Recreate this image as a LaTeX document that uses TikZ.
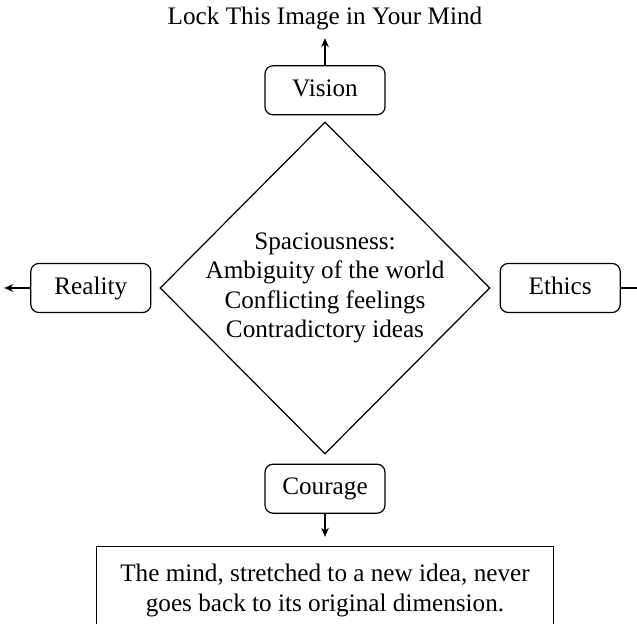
\documentclass[tikz,border=0pt]{standalone}
\usepackage{fontspec}
\setmainfont{Liberation Serif}
\usepackage{tikz}
\usetikzlibrary{shapes.geometric}
\usetikzlibrary{arrows.meta}
\usetikzlibrary{positioning}

\begin{document}
\begin{tikzpicture}[x=0.5pt,y=0.5pt,line width=0.6pt,font=\fontsize{12.6}{14.7}\selectfont,
	core node/.style={diamond, draw, minimum width=165pt, minimum height=166pt, inner sep=-3pt, align=center},
	side node/.style={rectangle, rounded corners=4pt, draw, minimum width=60pt, minimum height=24.5pt, text height=9pt, text depth=2.8pt},
	quote node/.style={rectangle, draw, minimum width=228.5pt, align=center, inner xsep=4pt, inner ysep=9pt, text depth=40pt}]
			
			\useasboundingbox (-325,-334) rectangle (312,290);
			
			\node[core node] (1) [yshift=1pt] {Spaciousness:\\ Ambiguity of the world\\ Conflicting feelings\\ Contradictory ideas};
			\node[side node] (2) [above=3pt of 1] {Vision};
			\node[side node] (3) [left=4pt of 1] {Reality};
			\node[side node] (4) [right=4.5pt of 1] {Ethics};
			\node[side node] (5) [below=4.5pt of 1] {Courage};
			\node (6) [above=13.5pt of 2, inner sep=4pt] {Lock This Image in Your Mind};
			\node[quote node] (7) [below=16pt of 5] {The mind, stretched to a new idea, never\\ goes back to its original dimension.};
			\coordinate[left=13pt of 3] (3a);
			\coordinate[right=13pt of 4] (4a);
			
			
			\path[-{Stealth[length=4.5pt,width=3.8pt]}]
			(2) edge (6)
			(3) edge (3a)
			(4) edge (4a)
			(5) edge[shorten >=4.5pt] (7.north);
			
		\end{tikzpicture}
\end{document}
